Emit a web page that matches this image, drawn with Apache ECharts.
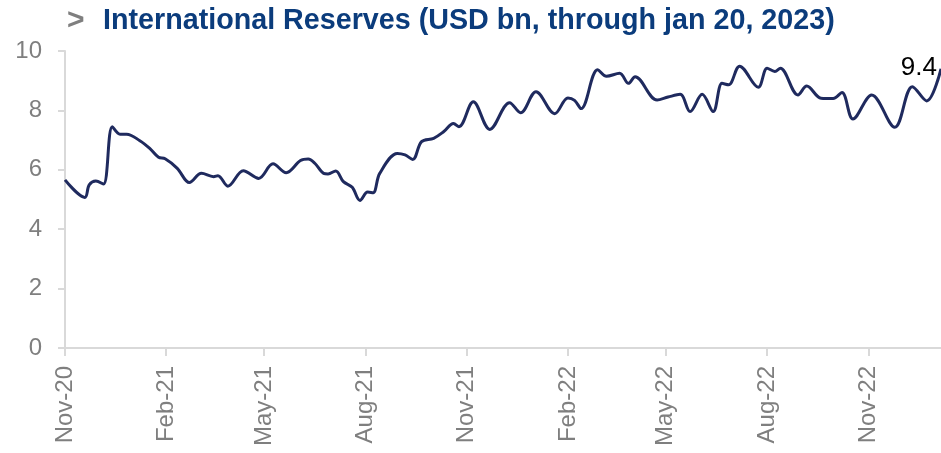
<!DOCTYPE html>
<html>
<head>
<meta charset="utf-8">
<title>International Reserves</title>
<script src="https://cdn.jsdelivr.net/npm/echarts@6/dist/echarts.min.js"></script>
<style>
  html, body { margin: 0; padding: 0; background: #ffffff; }
  #chart { width: 941px; height: 453px; }
</style>
</head>
<body>
<div id="chart"></div>
<script>
// Observation dates and reserve levels (USD bn)
const obsDates = ['2020-11-01','2020-11-19','2020-11-23','2020-11-29','2020-12-06','2020-12-14','2020-12-21','2020-12-27',
  '2021-01-08','2021-01-17','2021-01-25','2021-01-31','2021-02-11','2021-02-22','2021-03-05','2021-03-16','2021-03-20','2021-03-29',
  '2021-04-12','2021-04-26','2021-05-09','2021-05-21','2021-06-03','2021-06-10','2021-06-16','2021-06-24','2021-06-28',
  '2021-07-05','2021-07-12','2021-07-20','2021-07-27','2021-08-03','2021-08-08','2021-08-14','2021-08-30','2021-09-06','2021-09-13',
  '2021-09-21','2021-10-02','2021-10-11','2021-10-20','2021-10-25','2021-11-07','2021-11-22','2021-12-10','2021-12-20',
  '2022-01-03','2022-01-20','2022-02-01','2022-02-07','2022-02-13','2022-02-28','2022-03-08','2022-03-20','2022-03-28',
  '2022-04-03','2022-04-23','2022-05-03','2022-05-14','2022-05-23','2022-06-03','2022-06-13','2022-06-21','2022-06-27',
  '2022-07-07','2022-07-24','2022-08-01','2022-08-08','2022-08-13','2022-08-29','2022-09-06','2022-09-19','2022-09-30',
  '2022-10-08','2022-10-18','2022-11-04','2022-11-25','2022-12-11','2022-12-24','2023-01-06'];

const reserves = [5.66,5.07,5.49,5.62,5.52,7.45,7.2,7.2,
  6.98,6.72,6.42,6.37,6.05,5.57,5.88,5.77,5.8,5.45,
  5.97,5.71,6.2,5.9,6.31,6.36,6.22,5.88,5.86,
  5.96,5.6,5.41,4.97,5.25,5.23,5.88,6.55,6.5,6.35,
  6.95,7.06,7.28,7.56,7.45,8.29,7.36,8.26,7.92,
  8.63,7.89,8.42,8.34,8.06,9.37,9.15,9.25,8.91,
  9.13,8.35,8.45,8.54,7.96,8.54,7.96,8.91,8.86,
  9.49,8.78,9.42,9.31,9.42,8.52,8.82,8.41,8.4,
  8.6,7.71,8.52,7.43,8.8,8.32,9.4];

// Months that get an axis label and tick (quarterly: Feb, May, Aug, Nov)
const labelMonths = [2, 5, 8, 11];
const monthNames = ['Jan','Feb','Mar','Apr','May','Jun','Jul','Aug','Sep','Oct','Nov','Dec'];

const titleText = 'International Reserves (USD bn, through jan 20, 2023)';

// Daily category axis so that quarter ticks fall on the first of the month
const days = [];
(function () {
  const start = Date.parse(obsDates[0] + 'T00:00:00Z');
  const end = Date.parse(obsDates[obsDates.length - 1] + 'T00:00:00Z');
  for (let t = start; t <= end; t += 86400000) {
    days.push(new Date(t).toISOString().slice(0, 10));
  }
})();

const valueByDate = {};
obsDates.forEach((d, i) => { valueByDate[d] = reserves[i]; });
const seriesData = days.map(d => (d in valueByDate ? valueByDate[d] : null));

function isQuarterStart(index, value) {
  const m = parseInt(value.slice(5, 7), 10);
  return value.slice(8, 10) === '01' && labelMonths.indexOf(m) >= 0;
}

const chart = echarts.init(document.getElementById('chart'), null, { renderer: 'canvas' });

chart.setOption({
  animation: false,
  backgroundColor: '#ffffff',
  title: {
    left: 67,
    top: 6,
    padding: 0,
    text: '{m|>}{t|' + titleText + '}',
    textStyle: {
      rich: {
        m: { fontFamily: 'Liberation Sans, Arial, sans-serif', fontWeight: 'bold', fontSize: 30, color: '#7f7f7f', width: 36 },
        t: { fontFamily: 'Liberation Sans, Arial, sans-serif', fontWeight: 'bold', fontSize: 28.7, color: '#0b3c7c' }
      }
    }
  },
  grid: { left: 65, right: 0, top: 51, bottom: 105, containLabel: false },
  xAxis: {
    type: 'category',
    data: days,
    boundaryGap: false,
    axisLine: { show: true, lineStyle: { color: '#d9d9d9', width: 2 } },
    axisTick: { show: true, interval: isQuarterStart, length: 8, lineStyle: { color: '#d9d9d9', width: 2 } },
    axisLabel: {
      interval: isQuarterStart,
      rotate: 90,
      margin: 18,
      color: '#7f7f7f',
      fontSize: 24,
      fontFamily: 'Liberation Sans, Arial, sans-serif',
      formatter: v => monthNames[parseInt(v.slice(5, 7), 10) - 1] + '-' + v.slice(2, 4)
    },
    splitLine: { show: false }
  },
  yAxis: {
    type: 'value',
    min: 0,
    max: 10,
    interval: 2,
    axisLine: { show: true, lineStyle: { color: '#d9d9d9', width: 2 } },
    axisTick: { show: true, length: 7, lineStyle: { color: '#d9d9d9', width: 2 } },
    axisLabel: {
      margin: 23,
      color: '#7f7f7f',
      fontSize: 24,
      fontFamily: 'Liberation Sans, Arial, sans-serif'
    },
    splitLine: { show: false }
  },
  series: [{
    type: 'line',
    data: seriesData,
    connectNulls: true,
    smooth: 0.35,
    showSymbol: false,
    lineStyle: { color: '#1f2a5e', width: 3 },
    endLabel: {
      show: true,
      formatter: p => Number(p.value).toFixed(1),
      color: '#000000',
      fontSize: 26,
      fontFamily: 'Liberation Sans, Arial, sans-serif',
      align: 'right',
      distance: 0,
      offset: [-4, -1]
    }
  }]
});
</script>
</body>
</html>
